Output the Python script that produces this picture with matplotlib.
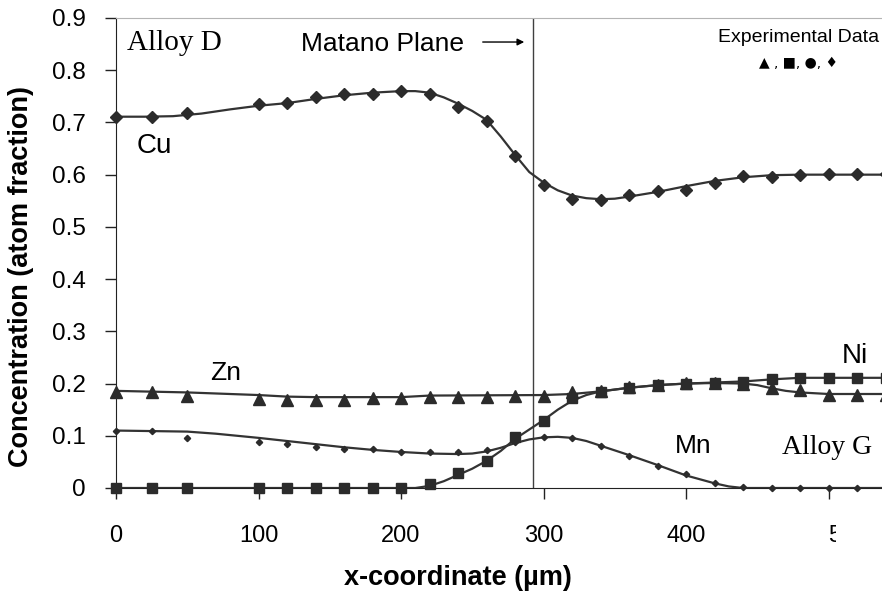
import matplotlib
matplotlib.use("Agg")
import matplotlib.pyplot as plt
from matplotlib.transforms import Bbox

# ---------------- data ----------------
x_pts = [0, 25, 50, 100, 120, 140, 160, 180, 200, 220, 240, 260, 280,
         300, 320, 340, 360, 380, 400, 420, 440, 460, 480, 500, 520, 540]

cu_pts = [0.711, 0.710, 0.719, 0.735, 0.738, 0.749, 0.754, 0.754, 0.760, 0.754,
          0.730, 0.702, 0.636, 0.581, 0.554, 0.552, 0.562, 0.569, 0.571, 0.585,
          0.597, 0.596, 0.600, 0.601, 0.601, 0.601]
zn_pts = [0.183, 0.183, 0.177, 0.171, 0.169, 0.168, 0.168, 0.172, 0.173, 0.175,
          0.175, 0.175, 0.176, 0.177, 0.183, 0.185, 0.193, 0.197, 0.201, 0.201,
          0.199, 0.192, 0.187, 0.179, 0.179, 0.179]
ni_pts = [0, 0, 0, 0, 0, 0, 0, 0, 0, 0.008, 0.028, 0.052, 0.098, 0.128, 0.172,
          0.184, 0.192, 0.197, 0.200, 0.201, 0.203, 0.209, 0.211, 0.211, 0.211, 0.211]
mn_pts = [0.110, 0.110, 0.095, 0.088, 0.084, 0.079, 0.075, 0.074, 0.068, 0.068,
          0.068, 0.073, 0.089, 0.097, 0.095, 0.080, 0.062, 0.042, 0.026, 0.010,
          0.001, 0, 0, 0, 0, 0]

# fitted (model) curves
cu_fit_x = [0, 20, 40, 60, 80, 100, 120, 140, 160, 180, 200, 210, 220, 230, 240,
            250, 260, 270, 280, 290, 300, 310, 320, 330, 340, 350, 360, 380, 400,
            420, 440, 460, 480, 500, 540]
cu_fit_y = [0.711, 0.711, 0.712, 0.717, 0.725, 0.732, 0.737, 0.745, 0.752, 0.757,
            0.760, 0.760, 0.757, 0.748, 0.736, 0.722, 0.705, 0.673, 0.638, 0.605,
            0.585, 0.570, 0.560, 0.555, 0.553, 0.554, 0.558, 0.567, 0.578, 0.588,
            0.595, 0.599, 0.600, 0.600, 0.600]
zn_fit_x = [0, 50, 100, 120, 140, 200, 220, 300, 320, 340, 360, 380, 400, 420,
            440, 450, 460, 470, 480, 500, 540]
zn_fit_y = [0.186, 0.183, 0.178, 0.175, 0.174, 0.174, 0.177, 0.178, 0.180, 0.185,
            0.192, 0.197, 0.200, 0.201, 0.200, 0.197, 0.191, 0.186, 0.183, 0.180, 0.180]
ni_fit_x = [0, 210, 220, 230, 240, 250, 260, 270, 280, 290, 300, 310, 320, 330,
            340, 360, 380, 400, 420, 440, 460, 480, 540]
ni_fit_y = [0, 0, 0.004, 0.013, 0.025, 0.037, 0.052, 0.071, 0.094, 0.112, 0.130,
            0.150, 0.167, 0.178, 0.185, 0.192, 0.197, 0.200, 0.202, 0.204, 0.208,
            0.211, 0.211]
mn_fit_x = [0, 50, 70, 100, 130, 160, 180, 200, 220, 240, 250, 260, 270, 280, 290,
            300, 310, 320, 330, 340, 360, 380, 400, 420, 430, 440, 540]
mn_fit_y = [0.110, 0.108, 0.104, 0.096, 0.087, 0.078, 0.073, 0.069, 0.066, 0.065,
            0.066, 0.070, 0.077, 0.086, 0.093, 0.097, 0.098, 0.096, 0.090, 0.081,
            0.063, 0.044, 0.024, 0.009, 0.003, 0.0, 0.0]

matano_x = 292.5
x_ticks = [0, 100, 200, 300, 400, 500]
y_ticks = [0, 0.1, 0.2, 0.3, 0.4, 0.5, 0.6, 0.7, 0.8, 0.9]
y_tick_labels = ["0", "0.1", "0.2", "0.3", "0.4", "0.5", "0.6", "0.7", "0.8", "0.9"]

SANS = "Liberation Sans"
SERIF = "Liberation Serif"
dark = "#333333"

fig = plt.figure(figsize=(8.82, 6), dpi=100)
ax = fig.add_axes([116 / 882, 112 / 600, 766 / 882, 470 / 600])

# ------------- curves + markers -------------
for fx, fy in [(cu_fit_x, cu_fit_y), (zn_fit_x, zn_fit_y),
               (ni_fit_x, ni_fit_y), (mn_fit_x, mn_fit_y)]:
    ax.plot(fx, fy, color=dark, linewidth=1.6, zorder=2)

ax.plot(x_pts, cu_pts, linestyle='none', marker='D', markersize=5.8,
        color='#2b2b2b', clip_on=False, zorder=3)
ax.plot(x_pts, zn_pts, linestyle='none', marker='^', markersize=8,
        color='#2b2b2b', clip_on=False, zorder=3)
ax.plot(x_pts, ni_pts, linestyle='none', marker='s', markersize=6.6,
        color='#2b2b2b', clip_on=False, zorder=3)
ax.plot(x_pts, mn_pts, linestyle='none', marker='D', markersize=3.2,
        color='#2b2b2b', clip_on=False, zorder=3)

# Matano plane
ax.axvline(matano_x, color='#404040', linewidth=1, zorder=1)

# ------------- axes -------------
ax.set_xlim(0, 537.5)
ax.set_ylim(0, 0.9)
ax.set_xticks(x_ticks)
ax.set_yticks(y_ticks)
ax.set_yticklabels(y_tick_labels)
ax.spines['right'].set_visible(False)
ax.spines['top'].set_color('#b4b4b4')
for s in ['left', 'bottom']:
    ax.spines[s].set_color('#222222')
ax.tick_params(direction='out', length=8, width=1, color='#222222')
ax.tick_params(axis='y', labelsize=17.5, pad=14)
ax.tick_params(axis='x', labelsize=17, pad=19)
for lab in ax.get_xticklabels() + ax.get_yticklabels():
    lab.set_fontfamily(SANS)

ax.set_ylabel("Concentration (atom fraction)", fontsize=19.5, fontweight='bold',
              fontfamily=SANS)
ax.set_xlabel("x-coordinate (µm)", fontsize=19.5, fontweight='bold', fontfamily=SANS)
ax.yaxis.set_label_coords(-0.107, 0.45)
ax.xaxis.set_label_coords(0.4465, -0.163)

# ------------- text -------------
ax.text(7.7, 0.839, "Alloy D", fontsize=21, fontfamily=SERIF, va='baseline')
ax.text(467.5, 0.065, "Alloy G", fontsize=20, fontfamily=SERIF, va='baseline')
ax.text(14.7, 0.6415, "Cu", fontsize=20, fontfamily=SANS, va='baseline')
ax.text(66, 0.2068, "Zn", fontsize=19, fontfamily=SANS, va='baseline')
ax.text(509.5, 0.2394, "Ni", fontsize=20, fontfamily=SANS, va='baseline')
ax.text(392, 0.067, "Mn", fontsize=19, fontfamily=SANS, va='baseline')
ax.text(129.5, 0.837, "Matano Plane", fontsize=19, fontfamily=SANS, va='baseline')
ax.annotate("", xy=(288.4, 0.854), xytext=(255.4, 0.854),
            arrowprops=dict(arrowstyle='-|>', color='black', lw=1, mutation_scale=10))
ax.text(479.3, 0.854, "Experimental Data", fontsize=14, fontfamily=SANS,
        ha='center', va='baseline')
ax.text(479.0, 0.806, "▲ , ■, ●, ♦", fontsize=10, fontfamily="DejaVu Sans",
        ha='center', va='baseline')

# last tick label is cut off at the right edge in the reference
fig.canvas.draw()
last = ax.get_xticklabels()[-1]
last.set_horizontalalignment('left')
last.set_clip_box(Bbox([[0, 0], [836, 600]]))
last.set_clip_on(True)

fig.savefig("out.png", dpi=100)
